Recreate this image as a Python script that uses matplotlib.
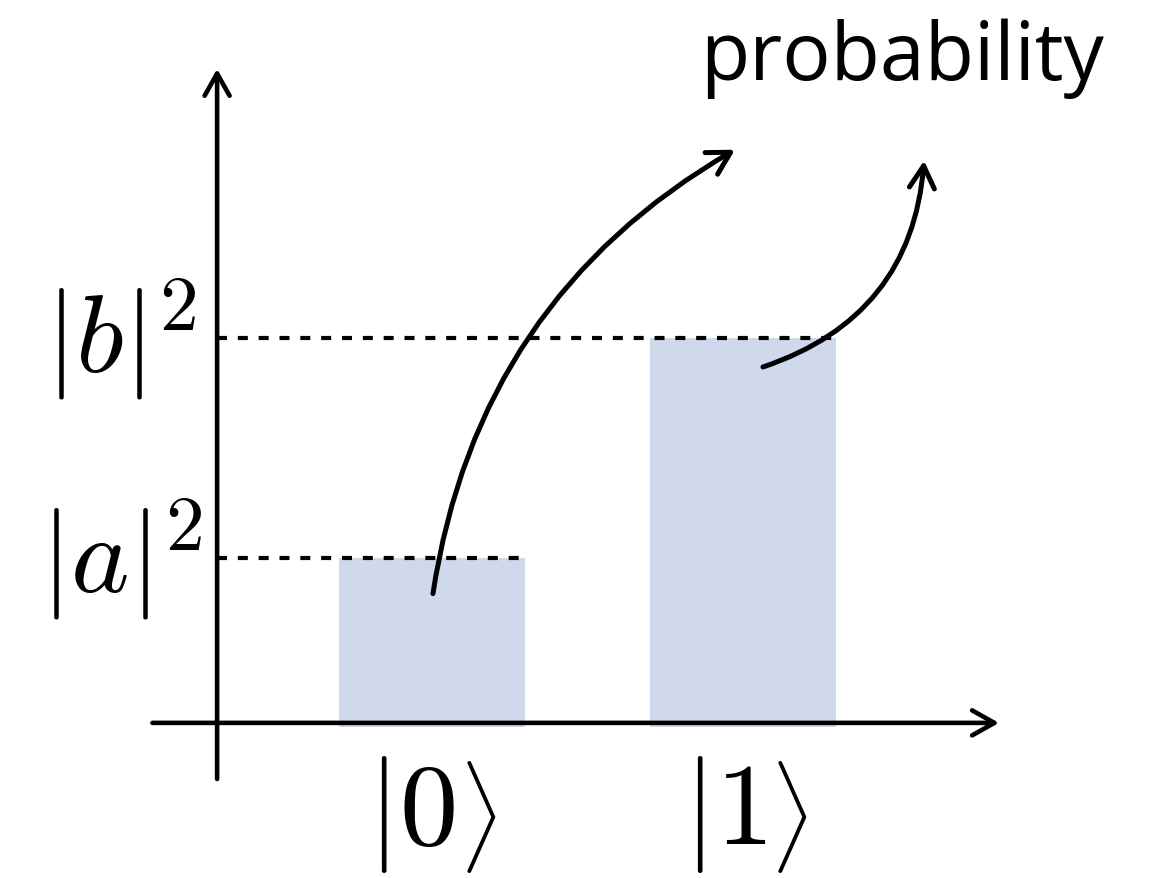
import matplotlib
matplotlib.use("Agg")
from matplotlib import pyplot as plt
import numpy as np

plt.rcParams["mathtext.fontset"] = "cm"

# data
states = [r"$|0$", r"$|1$"]          # ket labels, closed with a \rangle below
probs = np.array([0.3, 0.7])
prob_labels = [r"$|a|^2$", r"$|b|^2$"]
title = "probability"

x = np.arange(len(states))
width = 0.6
bar_color = "#d0d8eb"

fig = plt.figure(figsize=(11.53, 8.79), dpi=100)
ax = fig.add_axes([0, 0, 1, 1])
ax.set_xlim(-1.389, 2.318)
ax.set_ylim(-0.282, 1.316)
ax.axis("off")

# bars, slightly under the baseline like the original
off = 0.008
ax.bar(x, probs + off, bottom=-off, width=width, color=bar_color, zorder=1)

# axes with arrow heads
axis_x = -0.691
arrow = dict(arrowstyle="->,head_length=0.8,head_width=0.45", lw=3.3,
             color="black", shrinkA=0, shrinkB=0, mutation_scale=20)
ax.annotate("", xy=(axis_x, 1.189), xytext=(axis_x, -0.102), arrowprops=arrow)
ax.annotate("", xy=(1.823, 0), xytext=(-0.899, 0), arrowprops=arrow)

# dashed guide lines from the y axis to each bar's right edge
ax.hlines(probs, axis_x, x + width / 2, colors="black", lw=3.0,
          linestyles=(0, (2.4, 2.6)), zorder=2)

# labels
for yi, lab in zip(probs, prob_labels):
    ax.text(-1.0, yi, lab, fontsize=80, ha="center", va="center")
for xi, lab in zip(x, states):
    t = ax.text(xi + 0.075, -0.218, lab, fontsize=84, ha="right", va="baseline")
    ax.annotate(r"$\rangle$", xy=(1, 0), xycoords=t, xytext=(2.5, 0),
                textcoords="offset points", fontsize=68, ha="left", va="bottom")

ax.text(0.862, 1.171, title, fontsize=58, family=["Open Sans", "DejaVu Sans"],
        ha="left", va="baseline")

# curved arrows from the bars up to the "probability" label
curve = dict(arrowstyle="->,head_length=0.8,head_width=0.45", lw=3.6,
             color="black", shrinkA=0, shrinkB=0, mutation_scale=20)
ax.annotate("", xy=(0.974, 1.042), xytext=(x[0] + 0.003, probs[0] - 0.065),
            arrowprops=dict(curve, connectionstyle="arc3,rad=-0.24"), zorder=3)
ax.annotate("", xy=(1.582, 1.022), xytext=(x[1] + 0.064, probs[1] - 0.053),
            arrowprops=dict(curve, connectionstyle="arc3,rad=0.33"), zorder=3)

fig.savefig("out.png", dpi=100)
